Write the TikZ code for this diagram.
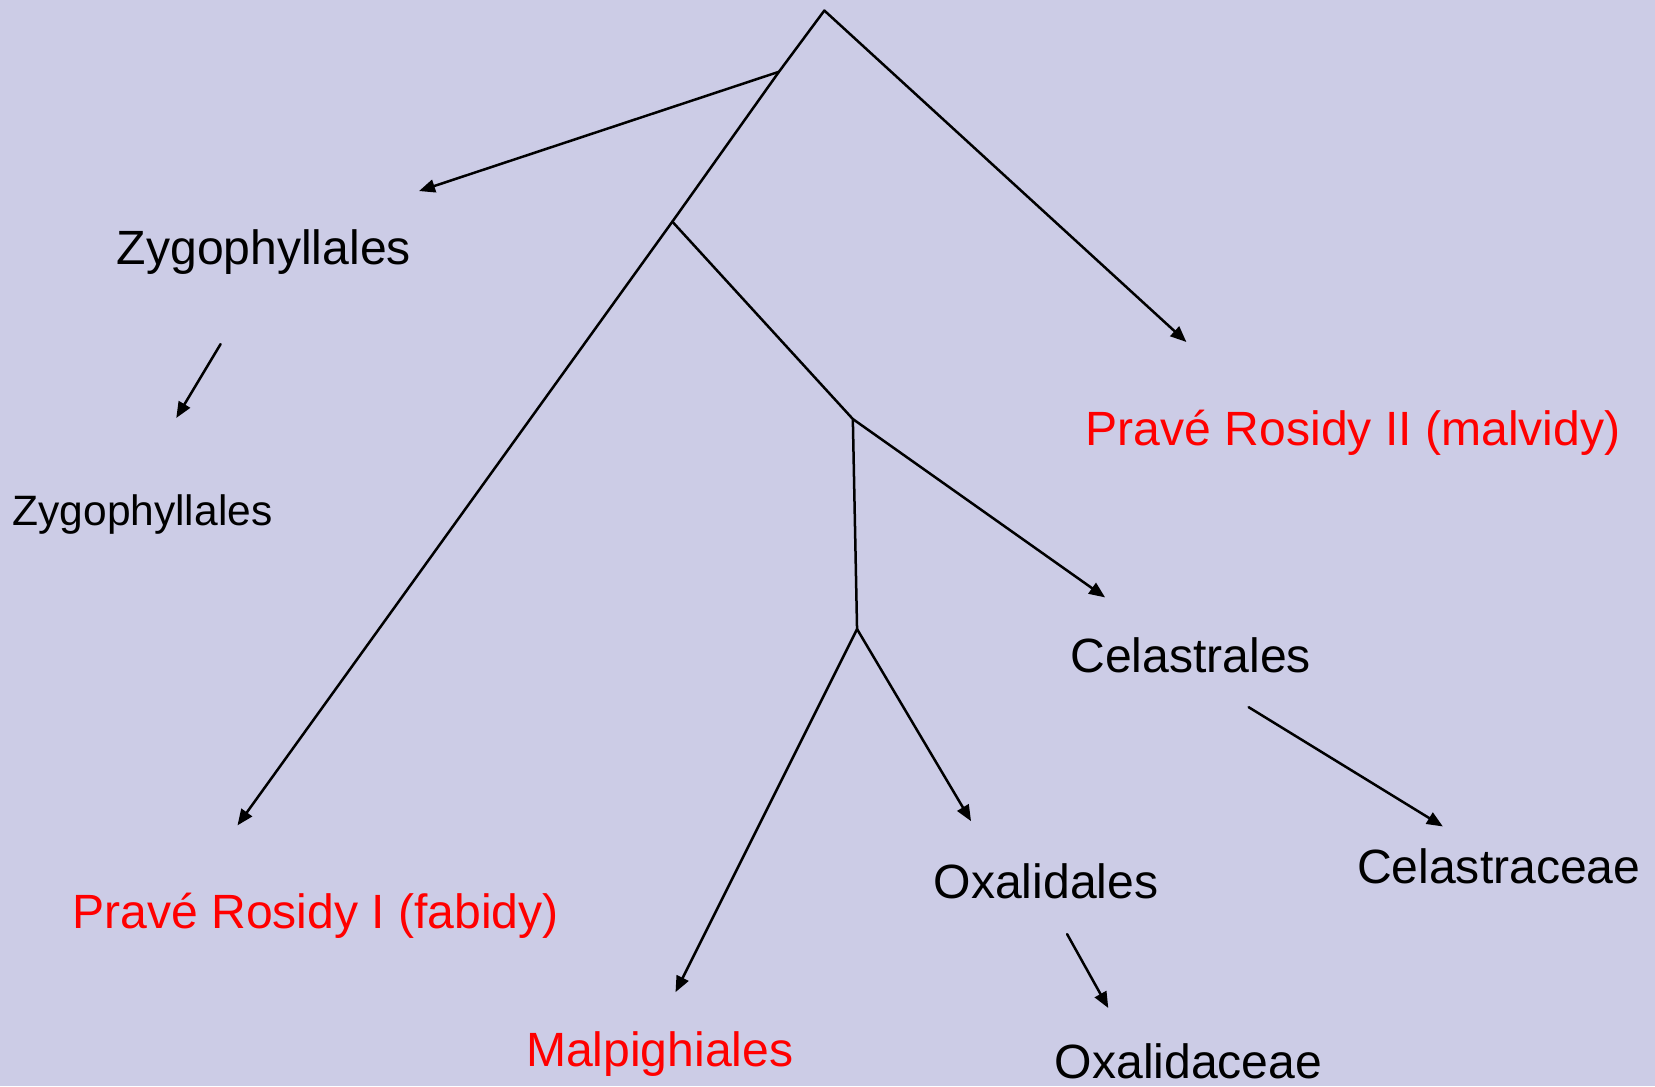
\documentclass[tikz,border=0pt]{standalone}
\usepackage{fontspec}
\setmainfont{Liberation Sans}
\usetikzlibrary{arrows.meta}
\definecolor{bgcol}{RGB}{204,204,230}
\definecolor{redtxt}{RGB}{255,0,0}
\begin{document}
\begin{tikzpicture}[x=1.0555pt,y=-1.0555pt,
  branch/.style={line width=2.5pt,line cap=round,line join=round},
  arr/.style={branch,-{Triangle[length=16pt,width=13pt]}},
  lbl/.style={inner sep=0pt,anchor=base,font=\fontsize{48.1pt}{52pt}\selectfont},
  lblsmall/.style={inner sep=0pt,anchor=base,font=\fontsize{42.5pt}{46pt}\selectfont},
  redlbl/.style={lbl,text=redtxt}]
\fill[bgcol] (0,0) rectangle (1568,1029);
\useasboundingbox (0,0) rectangle (1568,1029);

% junctions
\coordinate (apex) at (781,10);
\coordinate (j1) at (738,68);
\coordinate (j2) at (637,210);
\coordinate (j3) at (808,397);
\coordinate (j4) at (812,596);

% arrow ends
\coordinate (eZ) at (397,181);
\coordinate (eR1) at (225,782);
\coordinate (eR2) at (1124,324);
\coordinate (eC) at (1047,566);
\coordinate (eM) at (640,940);
\coordinate (eO) at (920,778);
\coordinate (sZ2) at (209,326);
\coordinate (eZ2) at (167,396);
\coordinate (sC2) at (1183,670);
\coordinate (eC2) at (1367,783);
\coordinate (sO2) at (1011,885);
\coordinate (eO2) at (1050,955);

% labels
\node[lbl] (zyg) at (250,251) {Zygophyllales};
\node[lblsmall] (zyg2) at (135,498) {Zygophyllales};
\node[redlbl] (r2) at (1282,422) {Pravé Rosidy II (malvidy)};
\node[redlbl] (r1) at (299,880) {Pravé Rosidy I (fabidy)};
\node[lbl] (cel) at (1128,637) {Celastrales};
\node[lbl] (oxa) at (991,851) {Oxalidales};
\node[lbl] (cela) at (1420,837) {Celastraceae};
\node[redlbl] (mal) at (625,1010) {Malpighiales};
\node[lbl] (oxac) at (1126,1022) {Oxalidaceae};

% tree
\draw[arr] (apex) -- (j1) -- (j2) -- (eR1);
\draw[arr] (j1) -- (eZ);
\draw[arr] (apex) -- (eR2);
\draw[branch] (j2) -- (j3) -- (j4);
\draw[arr] (j3) -- (eC);
\draw[arr] (j4) -- (eM);
\draw[arr] (j4) -- (eO);
\draw[arr] (sZ2) -- (eZ2);
\draw[arr] (sC2) -- (eC2);
\draw[arr] (sO2) -- (eO2);
\end{tikzpicture}
\end{document}
